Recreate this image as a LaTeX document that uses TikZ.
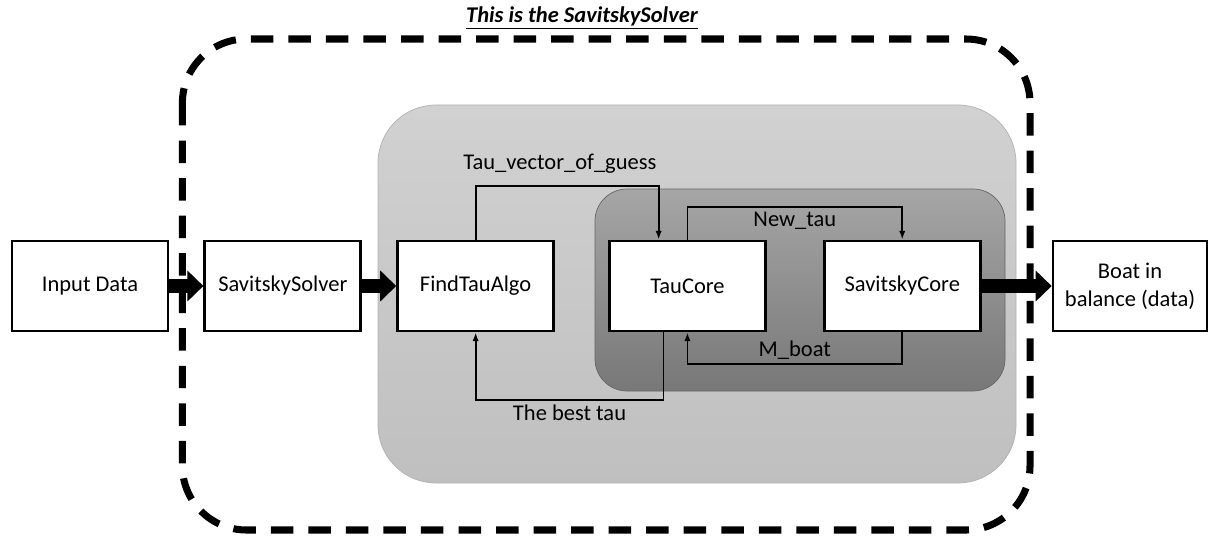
\documentclass[tikz,border=0pt]{standalone}
\usepackage{fontspec}
\setmainfont{Carlito}
\usetikzlibrary{arrows.meta,positioning}
\tikzset{
 block/.style={draw,line width=2pt,fill=white,align=center,minimum height=2.25cm,
             minimum width=3.9cm,font=\fontsize{16}{20}\selectfont},
 bigarrow/.style={-{Triangle[length=0.4cm,width=0.75cm]},line width=0.37cm},
 thinarrow/.style={-{Latex[length=2.2mm,width=1.6mm]},line width=1.3pt},
 lbl/.style={inner sep=1pt,font=\fontsize{16}{20}\selectfont},
 outerzone/.style={line width=5pt,dash pattern=on 16pt off 10.7pt,rounded corners=1.6cm},
 algozone/.style={draw=black!30,line width=0.5pt,top color=black!18,bottom color=black!25,
             rounded corners=1.45cm},
 corezone/.style={draw=black!60,line width=0.5pt,top color=black!35,bottom color=black!53,
             rounded corners=0.8cm}
}
\begin{document}
\begin{tikzpicture}
\useasboundingbox (0,0) rectangle (30.35,-13.4);
\draw[outerzone] (4.56,-0.975) rectangle (25.75,-13.25);
\draw[algozone] (9.45,-2.625) rectangle (25.4,-12.075);
\draw[corezone] (14.875,-4.725) rectangle (25.125,-9.775);
\node[font=\fontsize{16}{20}\selectfont\bfseries\itshape] (title) at (14.55,-0.45)
  {\underline{This is the SavitskySolver}};
\node[block] (input) at (2.25,-7.15) {Input Data};
\node[block,right=0.85cm of input] (solver) {SavitskySolver};
\node[block,right=0.85cm of solver] (findtau) {FindTauAlgo};
\node[block,right=1.325cm of findtau] (taucore) {TauCore};
\node[block,right=1.4cm of taucore] (savcore) {SavitskyCore};
\node[block,right=1.75cm of savcore,minimum width=3.85cm] (boat) {Boat in\\balance (data)};
\draw[bigarrow] (input) -- (solver);
\draw[bigarrow] (solver) -- (findtau);
\draw[bigarrow] (savcore) -- (boat);
\draw[thinarrow] (findtau.north) -- ++(0,1.35) -| ([xshift=-0.72cm]taucore.north)
  node[lbl,pos=0.25,above=7pt,xshift=-0.18cm] {Tau\_vector\_of\_guess};
\draw[thinarrow] (taucore.north) -- ++(0,0.82) -| (savcore.north)
  node[lbl,pos=0.25,below=2pt] {New\_tau};
\draw[thinarrow] (savcore.south) -- ++(0,-0.8) -| (taucore.south)
  node[lbl,pos=0.25,above=2pt] {M\_boat};
\draw[thinarrow] ([xshift=-0.6cm]taucore.south) -- ++(0,-1.68) -| (findtau.south)
  node[lbl,pos=0.25,below=2pt] {The best tau};
\end{tikzpicture}
\end{document}
